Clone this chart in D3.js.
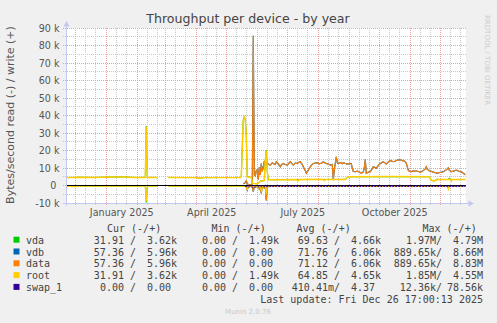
<html>
<head>
<meta charset="utf-8">
<style>
  body { margin: 0; background: #f0f0f0; }
  svg { display: block; }
</style>
<script src="https://cdn.jsdelivr.net/npm/d3@7"></script>
</head>
<body>
<svg id="chart" width="497" height="323"></svg>
<script>
// values in kB/s, write is plotted up, read is plotted down
const dataWrite = [
  ["2025-05-18",1.0],["2025-05-20",1.6],["2025-05-21",2.7],["2025-05-22",1.0],["2025-05-24",0.3],
  ["2025-05-26",0.6],["2025-05-27",0.8],["2025-05-28",85.5],["2025-05-29",6],["2025-05-30",5.5],
  ["2025-05-31",8.5],["2025-06-01",9],["2025-06-02",3.5],["2025-06-03",10.5],["2025-06-04",6],
  ["2025-06-05",12.6],["2025-06-06",8],["2025-06-07",10.7],["2025-06-08",14],["2025-06-09",12],
  ["2025-06-10",13.6],["2025-06-12",12.2],["2025-06-14",11.7],["2025-06-16",13],["2025-06-17",12.6],
  ["2025-06-19",12],["2025-06-20",13.6],["2025-06-22",12.4],["2025-06-24",10.7],["2025-06-25",11.8],
  ["2025-06-27",12.6],["2025-06-29",12],["2025-07-01",11.7],["2025-07-03",13],["2025-07-04",13.6],
  ["2025-07-06",12.2],["2025-07-07",11.7],["2025-07-09",12.8],["2025-07-11",12.6],["2025-07-13",13.4],
  ["2025-07-14",13.6],["2025-07-16",12],["2025-07-17",10.7],["2025-07-19",8.5],["2025-07-20",7],
  ["2025-07-22",8.8],["2025-07-23",9.8],["2025-07-25",11.5],["2025-07-27",12.6],["2025-07-29",12.8],
  ["2025-07-31",13],["2025-08-02",12.4],["2025-08-03",12.6],["2025-08-05",13],["2025-08-06",13.6],
  ["2025-08-08",12.8],["2025-08-09",12.6],["2025-08-11",12.2],["2025-08-13",11.7],["2025-08-15",12],
  ["2025-08-16",3.1],["2025-08-17",9],["2025-08-19",16.4],["2025-08-20",13],["2025-08-21",12.6],
  ["2025-08-23",13.2],["2025-08-25",12.4],["2025-08-26",13],["2025-08-28",12.6],["2025-08-30",12.2],
  ["2025-08-31",12.4],["2025-09-02",12.6],["2025-09-03",12.4],["2025-09-04",10],["2025-09-05",8],
  ["2025-09-07",7.9],["2025-09-09",8.2],["2025-09-10",7.9],["2025-09-12",7.4],["2025-09-13",7],
  ["2025-09-15",7.8],["2025-09-16",10],["2025-09-17",14.9],["2025-09-18",7],["2025-09-20",7.6],
  ["2025-09-22",7.9],["2025-09-24",9.6],["2025-09-25",10.7],["2025-09-27",10.2],["2025-09-28",9.8],
  ["2025-09-30",11.5],["2025-10-02",12.6],["2025-10-04",13.2],["2025-10-05",13.6],["2025-10-07",12.8],
  ["2025-10-08",12.2],["2025-10-10",13.5],["2025-10-12",14.3],["2025-10-14",13.8],["2025-10-15",13.6],
  ["2025-10-17",14],["2025-10-18",14.3],["2025-10-20",14.6],["2025-10-22",14.7],["2025-10-24",14.2],
  ["2025-10-25",14.3],["2025-10-27",13.6],["2025-10-28",12.6],["2025-10-30",8.8],["2025-10-31",8.2],
  ["2025-11-02",7.9],["2025-11-04",8.3],["2025-11-06",8.1],["2025-11-07",8.4],["2025-11-09",8],
  ["2025-11-11",7.6],["2025-11-12",7.9],["2025-11-14",8.5],["2025-11-16",9.5],["2025-11-17",10.7],
  ["2025-11-18",9.2],["2025-11-19",8.8],["2025-11-21",8.2],["2025-11-23",7.9],["2025-11-25",7.5],
  ["2025-11-27",7.2],["2025-11-28",7],["2025-11-30",7.4],["2025-12-02",7.6],["2025-12-04",7.9],
  ["2025-12-06",8.5],["2025-12-08",9.5],["2025-12-09",10.1],["2025-12-10",8.8],["2025-12-12",7.9],
  ["2025-12-14",8.2],["2025-12-16",8.6],["2025-12-17",8.8],["2025-12-19",8.3],["2025-12-21",7.9],
  ["2025-12-22",7.9],["2025-12-24",7],["2025-12-26",6.1]
];
const dataRead = [
  ["2025-05-18",-0.2],["2025-05-21",-0.4],["2025-05-22",-2.5],["2025-05-23",-0.3],["2025-05-27",-0.5],
  ["2025-05-28",-3.5],["2025-05-29",-0.6],["2025-06-02",-0.5],["2025-06-03",-2],["2025-06-04",-0.4],
  ["2025-06-05",-4.5],["2025-06-06",-0.5],["2025-06-08",-1.5],["2025-06-09",-0.4],["2025-06-10",-8.5],
  ["2025-06-11",-0.8],["2025-06-13",-0.3],["2025-09-10",-0.3],["2025-12-26",-0.3]
];
// vdb holds the same partition as data, so its readings are identical
const vdbWrite = dataWrite;
const vdbRead = dataRead;

const rootWrite = [
  ["2024-11-22",4.5],["2024-12-05",4.7],["2024-12-20",4.6],["2025-01-05",4.8],["2025-01-20",4.9],
  ["2025-01-28",4.6],["2025-02-08",4.6],["2025-02-09",4.7],["2025-02-10",33.5],["2025-02-11",4.6],
  ["2025-02-21",4.6],["2025-02-22",null],["2025-03-03",null],["2025-03-04",4.6],["2025-04-01",4.5],
  ["2025-04-05",4.2],["2025-04-08",4.5],["2025-05-15",4.6],["2025-05-16",5],["2025-05-17",22],
  ["2025-05-18",37],["2025-05-19",39],["2025-05-20",37.5],["2025-05-21",28],["2025-05-22",5],
  ["2025-05-26",4.6],["2025-05-27",1.2],["2025-06-01",1.0],["2025-06-04",2.5],["2025-06-08",2.8],
  ["2025-06-09",14],["2025-06-10",20],["2025-06-11",8],["2025-06-12",3.3],["2025-07-10",3.4],
  ["2025-07-12",2.6],["2025-07-13",3.4],["2025-08-05",3.5],["2025-08-07",2.8],["2025-08-08",3.5],
  ["2025-08-28",3.5],["2025-08-31",5.0],["2025-10-10",5.1],["2025-11-20",5.0],["2025-11-22",3.0],
  ["2025-11-25",2.6],["2025-11-28",3.4],["2025-12-11",3.4],["2025-12-12",2.6],["2025-12-13",3.4],
  ["2025-12-26",3.4]
];
const rootRead = [
  ["2024-11-22",-0.3],["2024-11-23",-0.8],["2024-11-24",-0.3],["2024-12-01",-0.7],["2024-12-02",-0.3],
  ["2025-02-09",-0.3],["2025-02-10",-9],["2025-02-11",-0.3],["2025-02-21",-0.3],["2025-02-22",null],
  ["2025-03-03",null],["2025-03-04",-0.3],["2025-05-20",-0.4],["2025-05-22",-2.2],["2025-05-23",-0.5],
  ["2025-06-01",-0.4],["2025-06-02",-1.5],["2025-06-03",-0.4],["2025-06-04",-0.5],["2025-06-05",-3.5],
  ["2025-06-06",-0.6],["2025-06-09",-0.5],["2025-06-10",-5],["2025-06-11",-0.5],["2025-12-08",-0.3],
  ["2025-12-09",-2.2],["2025-12-10",-0.3],["2025-12-26",-0.3]
];
const vdaWrite = [
  ["2024-11-22",4.5],["2024-12-05",4.7],["2024-12-20",4.6],["2025-01-05",4.8],["2025-01-20",4.9],
  ["2025-01-28",4.6],["2025-02-08",4.6],["2025-02-09",4.7],["2025-02-10",33.8],["2025-02-11",4.6],
  ["2025-02-21",4.6],["2025-02-22",null],["2025-03-03",null],["2025-03-04",4.6],["2025-04-01",4.5],
  ["2025-04-05",4.2],["2025-04-08",4.5],["2025-05-15",4.6],["2025-05-16",5],["2025-05-17",22.5],
  ["2025-05-18",37.5],["2025-05-19",39.3],["2025-05-20",38],["2025-05-21",28.5],["2025-05-22",5],
  ["2025-05-26",4.6],["2025-05-27",1.2],["2025-06-01",1.0],["2025-06-04",2.5],["2025-06-08",2.8],
  ["2025-06-09",14.5],["2025-06-10",20.3],["2025-06-11",8],["2025-06-12",3.3],["2025-08-28",3.5],
  ["2025-08-31",5.0],["2025-11-20",5.0],["2025-11-22",3.0],["2025-11-25",2.6],["2025-11-28",3.8],
  ["2025-11-29",3.4],["2025-12-09",3.4],["2025-12-10",4.4],["2025-12-11",3.4],["2025-12-26",3.4]
];
const vdaRead = [
  ["2024-11-22",-0.3],["2025-02-09",-0.3],["2025-02-10",-9.6],["2025-02-11",-0.3],["2025-02-21",-0.3],
  ["2025-02-22",null],["2025-03-03",null],["2025-03-04",-0.3],["2025-05-21",-0.4],["2025-05-22",-2.3],
  ["2025-05-23",-0.5],["2025-06-04",-0.5],["2025-06-05",-3.6],["2025-06-06",-0.6],["2025-12-26",-0.3]
];
const swapWrite = [["2025-05-20",0],["2025-12-26",0]];
const swapRead = [
  ["2025-05-20",-0.6],["2025-05-28",-0.9],["2025-06-05",-0.7],["2025-06-20",-0.6],["2025-12-26",-0.6]
];

const names = ["vda", "vdb", "data", "root", "swap_1"];
const colors = ["#00cc00", "#0066b3", "#ff8000", "#ffcc00", "#330099"];
const curRead = ["31.91", "57.36", "57.36", "31.91", "0.00"];
const curWrite = ["3.62k", "5.96k", "5.96k", "3.62k", "0.00"];
const minRead = ["0.00", "0.00", "0.00", "0.00", "0.00"];
const minWrite = ["1.49k", "0.00", "0.00", "1.49k", "0.00"];
const avgRead = ["69.63", "71.76", "71.12", "64.85", "410.41m"];
const avgWrite = ["4.66k", "6.06k", "6.06k", "4.65k", "4.37"];
const maxRead = ["1.97M", "889.65k", "889.65k", "1.85M", "12.36k"];
const maxWrite = ["4.79M", "8.66M", "8.83M", "4.55M", "78.56k"];

const yTicks = [-10, 0, 10, 20, 30, 40, 50, 60, 70, 80, 90];
const monthLabels = ["January 2025", "April 2025", "July 2025", "October 2025"];

let svg = d3.select("#chart")
let parse = d3.timeParse("%Y-%m-%d")

let x = d3.scaleTime()
  .domain([new Date(2024, 10, 21, 17), new Date(2025, 11, 26, 17)])
  .range([66, 466])
let y = d3.scaleLinear()
  .domain([-10, 90])
  .range([203, 28])

svg.append("rect").attr("width", 497).attr("height", 323).attr("fill", "#f0f0f0")
svg.append("rect")
  .attr("x", 66).attr("y", 28)
  .attr("width", 400).attr("height", 175.5)
  .attr("fill", "#ffffff")

// grid: minor every 5k / 10 days, major every 10k / month
let minorY = d3.range(-10, 91, 5).filter(v => v % 10 != 0)
let px = v => Math.floor(v) + 0.5

let grid = svg.append("g")
grid.selectAll(".hmin").data(minorY).enter().append("line")
  .attr("x1", 63).attr("x2", 466)
  .attr("y1", d => px(y(d))).attr("y2", d => px(y(d)))
  .attr("stroke", "#c8c8c8").attr("stroke-dasharray", "1,1")

let days = d3.timeDay.range(x.domain()[0], x.domain()[1])
let minorX = days.filter(d => d.getDate() == 11 || d.getDate() == 21)
let majorX = days.filter(d => d.getDate() == 1)

grid.selectAll(".vmin").data(minorX).enter().append("line")
  .attr("x1", d => px(x(d))).attr("x2", d => px(x(d)))
  .attr("y1", 28).attr("y2", 206)
  .attr("stroke", "#c8c8c8").attr("stroke-dasharray", "1,1")
grid.selectAll(".hmaj").data(yTicks).enter().append("line")
  .attr("x1", 63).attr("x2", 466)
  .attr("y1", d => px(y(d))).attr("y2", d => px(y(d)))
  .attr("stroke", "#f0a0a0").attr("stroke-dasharray", "1,1")
grid.selectAll(".vmaj").data(majorX).enter().append("line")
  .attr("x1", d => px(x(d))).attr("x2", d => px(x(d)))
  .attr("y1", 28).attr("y2", 206)
  .attr("stroke", "#f0a0a0").attr("stroke-dasharray", "1,1")

// series
let line = d3.line()
  .defined(d => d[1] != null)
  .x(d => x(parse(d[0])))
  .y(d => y(d[1]))

let plot = svg.append("g")
function draw(data, color, w, dash) {
  plot.append("path")
    .attr("d", line(data))
    .attr("fill", "none")
    .attr("stroke", color)
    .attr("stroke-width", w)
    .attr("stroke-dasharray", dash || null)
}
draw(vdaWrite, colors[0], 1)
draw(vdaRead, colors[0], 1)
draw(vdbWrite, colors[1], 1.2)
draw(vdbRead, colors[1], 1.2)
draw(dataWrite, colors[2], 1.1)
draw(dataRead, colors[2], 1.1)
draw(rootWrite, colors[3], 1.5)
draw(rootRead, colors[3], 1.3)

plot.append("line")
  .attr("x1", 66).attr("x2", 466)
  .attr("y1", px(y(0))).attr("y2", px(y(0)))
  .attr("stroke", "#000")
draw(swapRead, colors[4], 1, "2,1")
draw(swapWrite, colors[4], 1, "1,2")

// axes
let axisColor = "#c4c8f0"
svg.append("line").attr("x1", 66.5).attr("x2", 66.5).attr("y1", 206).attr("y2", 24)
  .attr("stroke", axisColor)
svg.append("path").attr("d", "M63.5,26.5L69.5,26.5L66.5,21Z").attr("fill", axisColor)
svg.append("line").attr("x1", 63).attr("x2", 470).attr("y1", 203.5).attr("y2", 203.5)
  .attr("stroke", axisColor)
svg.append("path").attr("d", "M468.5,200.5L468.5,206.5L474,203.5Z").attr("fill", axisColor)

let font = "DejaVu Sans, sans-serif"
let mono = "DejaVu Sans Mono, monospace"

svg.selectAll(".ylab").data(yTicks).enter().append("text")
  .attr("x", 59.5).attr("y", d => y(d) + 3.5)
  .attr("text-anchor", "end")
  .attr("font-family", font).attr("font-size", 9.6).attr("fill", "#555")
  .text(d => d == 0 ? "0\u00a0" : d + " k")

let labelDates = monthLabels.map(s => d3.timeParse("%B %Y")(s))
svg.selectAll(".xlab").data(monthLabels).enter().append("text")
  .attr("x", (d, i) => x(d3.timeDay.offset(labelDates[i], 15)) + 0.5)
  .attr("y", 216)
  .attr("text-anchor", "middle")
  .attr("font-family", font).attr("font-size", 9.6).attr("fill", "#555")
  .text(d => d)

svg.append("text")
  .attr("x", 248).attr("y", 23)
  .attr("text-anchor", "middle")
  .attr("font-family", font).attr("font-size", 12.6).attr("fill", "#444")
  .text("Throughput per device - by year")

svg.append("text")
  .attr("transform", "translate(14,115) rotate(-90)")
  .attr("text-anchor", "middle")
  .attr("font-family", font).attr("font-size", 11).attr("fill", "#555")
  .text("Bytes/second read (-) / write (+)")

svg.append("text")
  .attr("transform", "translate(485,15) rotate(90)")
  .attr("font-family", font).attr("font-size", 7).attr("fill", "#ccc")
  .text("RRDTOOL / TOBI OETIKER")

// legend
let leg = svg.append("g")
  .attr("font-family", mono).attr("font-size", 10).attr("fill", "#444")
  .style("white-space", "pre")

let heads = [["Cur (-/+)", 107], ["Min (-/+)", 211.5], ["Avg (-/+)", 296.5], ["Max (-/+)", 422.5]]
heads.forEach(h => leg.append("text").attr("x", h[1]).attr("y", 231.7).text(h[0]))

let rs = v => /[kmM]$/.test(v) ? v + "/" : v + " /"
let ws = v => /[kmM]$/.test(v) ? v : v + "\u00a0"
let cols = [[curRead, curWrite], [minRead, minWrite], [avgRead, avgWrite], [maxRead, maxWrite]]
let readEnd = [136, 238, 340, 442]
let writeEnd = [177, 279, 381, 483]

names.forEach((n, i) => {
  let by = 243.7 + i * 11.8
  leg.append("rect").attr("x", 13.5).attr("y", by - 7).attr("width", 6).attr("height", 6)
    .attr("fill", colors[i])
  leg.append("text").attr("x", 26).attr("y", by).text(n)
  cols.forEach((c, j) => {
    leg.append("text").attr("x", readEnd[j]).attr("y", by).attr("text-anchor", "end").text(rs(c[0][i]))
    leg.append("text").attr("x", writeEnd[j]).attr("y", by).attr("text-anchor", "end").text(ws(c[1][i]))
  })
})
leg.append("text").attr("x", 483).attr("y", 243.7 + 5 * 11.8).attr("text-anchor", "end")
  .text("Last update: Fri Dec 26 17:00:13 2025")

svg.append("text")
  .attr("x", 248).attr("y", 314.3)
  .attr("text-anchor", "middle")
  .attr("font-family", font).attr("font-size", 7).attr("fill", "#c8c8c8")
  .text("Munin 2.0.76")
</script>
</body>
</html>
